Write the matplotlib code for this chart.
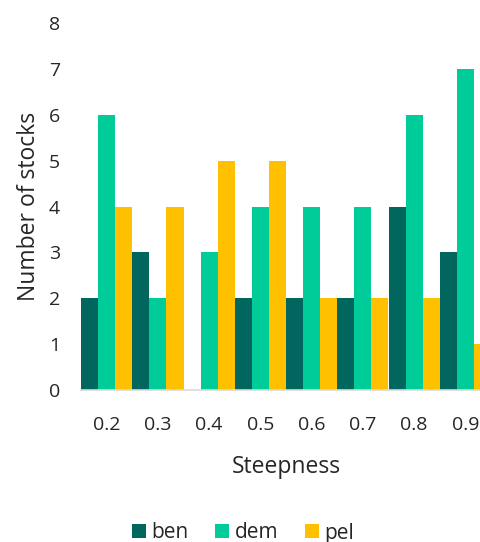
import numpy as np
import matplotlib.pyplot as plt

plt.rcParams['font.family'] = ['Open Sans', 'DejaVu Sans']

steepness = ['0.2', '0.3', '0.4', '0.5', '0.6', '0.7', '0.8', '0.9']
ben = [2, 3, 0, 2, 2, 2, 4, 3]
dem = [6, 2, 3, 4, 4, 4, 6, 7]
pel = [4, 4, 5, 5, 2, 2, 2, 1]

x = np.arange(len(steepness))
width = 1 / 3

fig = plt.figure(figsize=(4.81, 5.42), dpi=100)
# axes run past the right edge, as in the original
ax = fig.add_axes([81 / 481, 1 - 390 / 542, 410 / 481, 367 / 542])

ax.bar(x - width, ben, width, label='ben', color='#00665e')
ax.bar(x, dem, width, label='dem', color='#00cc99')
ax.bar(x + width, pel, width, label='pel', color='#ffc000')

ax.set_xlim(-0.5, len(steepness) - 0.5)
ax.set_ylim(0, 8)
ax.set_yticks(range(0, 9))
ax.set_xticks(x)
ax.set_xticklabels(steepness)
ax.tick_params(axis='both', length=0, labelsize=14, colors='#262626')
ax.tick_params(axis='x', pad=19)
ax.tick_params(axis='y', pad=15)

for s in ['top', 'right', 'left']:
    ax.spines[s].set_visible(False)
ax.spines['bottom'].set_color('#d9d9d9')
ax.spines['bottom'].set_linewidth(1.2)

ax.set_xlabel('Steepness', fontsize=16.5, color='#262626', labelpad=15)
ax.set_ylabel('Number of stocks', fontsize=16.5, color='#262626', labelpad=6)

fig.legend(loc='center', bbox_to_anchor=(243 / 481, 1 - 533 / 542), ncol=3,
           frameon=False, fontsize=15, handlelength=0.67, handleheight=0.67,
           handletextpad=0.25, columnspacing=1.3, labelcolor='#262626')

fig.savefig('out.png', dpi=100)
